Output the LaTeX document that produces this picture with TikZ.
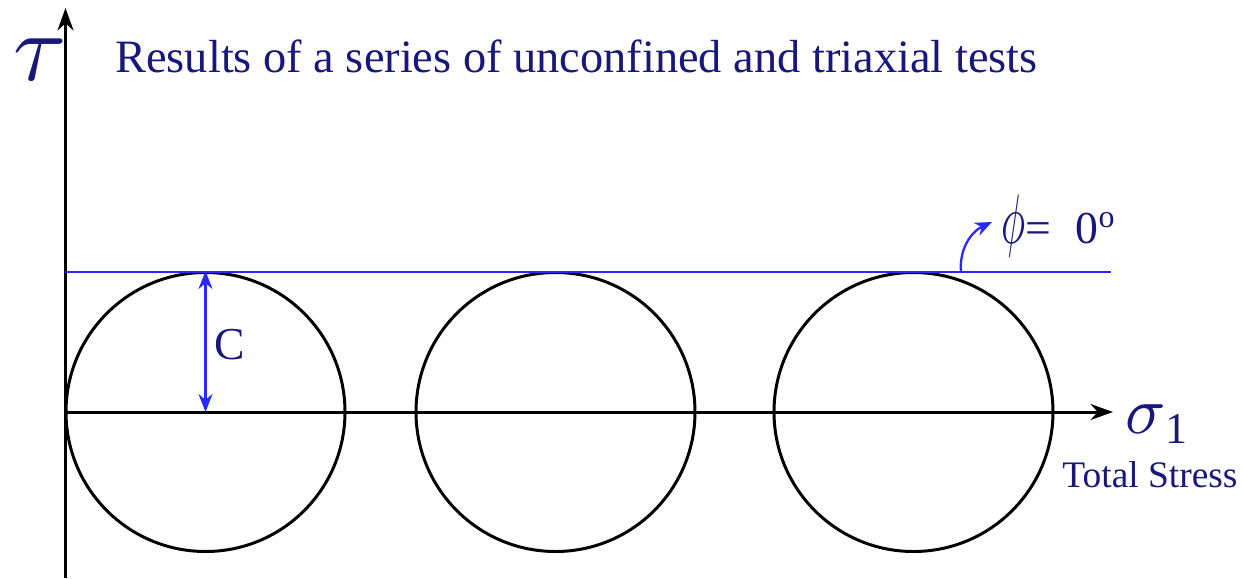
\documentclass[tikz,border=0pt]{standalone}
\usepackage{graphicx}
\usepackage{fontspec}
\setmainfont{Liberation Serif}
\usepackage{tikz}
\usepackage{xcolor}
\usetikzlibrary{arrows.meta,positioning}

\definecolor{textnavy}{RGB}{24,24,122}
\definecolor{lineblue}{RGB}{40,40,255}

\begin{document}
\begin{tikzpicture}[
axis/.style={-{Stealth[length=4.5mm,width=3.2mm]}, line width=1.7pt},
mohr/.style={circle, draw, line width=1.7pt, minimum size=5.58cm, inner sep=0pt},
envelope/.style={lineblue, line width=1.2pt},
label/.style={text=textnavy, inner sep=0pt}
]
\useasboundingbox (-1.31,-3.32) rectangle (23.53,8.24);
% axes
\coordinate (o) at (0,0);
\coordinate (xend) at (20.95,0);
\coordinate (ybot) at (0,-3.32);
\coordinate (yend) at (0,8.08);
\draw[axis] (ybot) -- (yend);
\draw[axis] (o) -- (xend);
% circles from the tests
\node[mohr] (c1) at (2.8,0) {};
\node[mohr] (c2) at (9.8,0) {};
\node[mohr] (c3) at (16.96,0) {};
% failure envelope
\coordinate (e0) at (0,2.8);
\coordinate (e1) at (20.9,2.8);
\draw[envelope] (e0) -- (e1);
\draw[lineblue, line width=1.3pt, {Stealth[length=3.6mm,width=2.8mm]}-{Stealth[length=3.6mm,width=2.8mm]}] (c1.north) -- (c1.center);
% labels
\node[label, font=\fontsize{26.4}{30}\selectfont, anchor=base west] (title) at (0.99,6.8) {Results of a series of unconfined and triaxial tests};
\node[label] (tau) at (-0.5,7.05) {\scalebox{5.5}{$\tau$}};
\node[label, font=\fontsize{26}{30}\selectfont] (cc) at (3.29,1.34) {C};
\node[label, anchor=base west] (phi) at (18.72,3.38) {\scalebox{2.3}[4]{$\phi$}{\fontsize{26}{30}\selectfont= \;0\textsuperscript{o}}};
\node[label, anchor=base west] (sig) at (21.19,-0.42) {\scalebox{3.8}{$\sigma$}{\fontsize{25}{28}\selectfont\raisebox{-6pt}{1}}};
\node[label, font=\fontsize{21.3}{24}\selectfont, anchor=base west] (ts) at (19.93,-1.5) {Total Stress};
\coordinate (a0) at (17.91,2.8);
\coordinate (a1) at (18.53,3.8);
\draw[lineblue, line width=1.3pt, -{Stealth[length=3.4mm,width=2.8mm]}] (a0) to[out=95,in=205] (a1);
\end{tikzpicture}
\end{document}
